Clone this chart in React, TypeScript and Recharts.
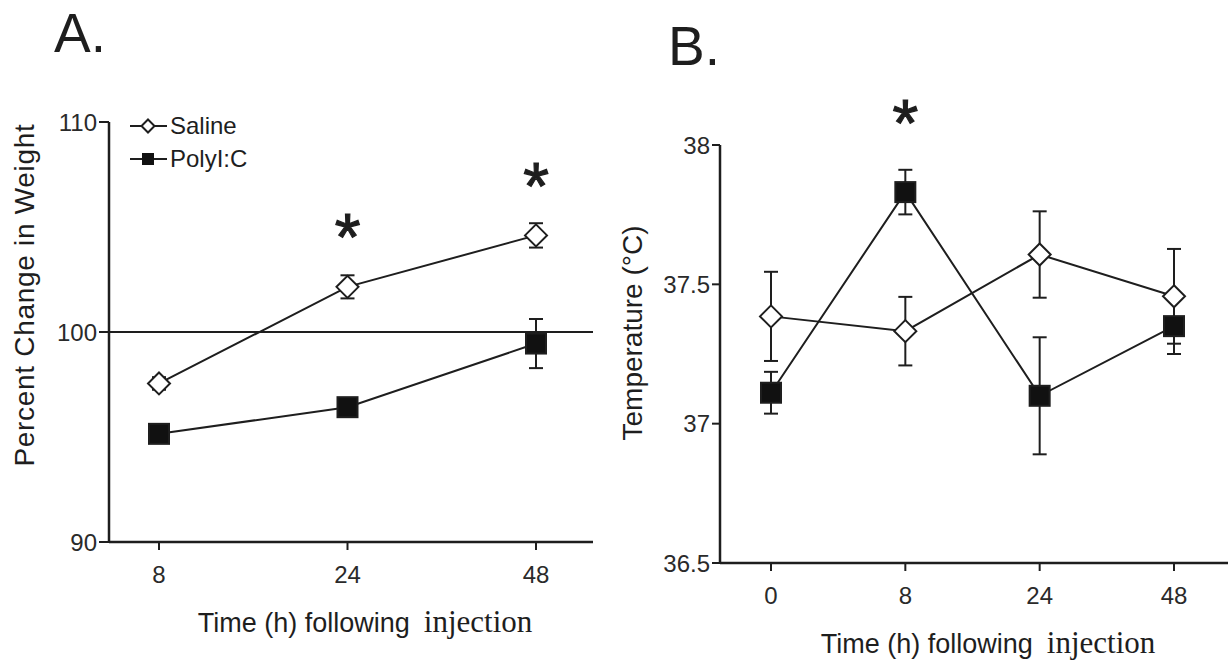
import React from 'react';
import { LineChart, Line, XAxis, YAxis, ErrorBar, ReferenceLine, ReferenceDot, Legend } from 'recharts';

const SANS = '"Liberation Sans", Arial, Helvetica, sans-serif';
const SERIF = '"Liberation Serif", "Times New Roman", serif';
const INK = '#1e1e1e';

// Panel A: percent change in weight
const weightTimes = ['8', '24', '48'];
const weightSaline = [97.55, 102.15, 104.6];
const weightSalineErr = [0.3, 0.55, 0.58];
const weightPoly = [95.15, 96.42, 99.45];
const weightPolyErr = [0.2, 0.25, 1.17];
const weightTicks = [90, 100, 110];
const weightStars = [
  { time: '24', y: 105.2 },
  { time: '48', y: 107.6 },
];

// Panel B: body temperature
const tempTimes = ['0', '8', '24', '48'];
const tempSaline = [37.385, 37.332, 37.607, 37.457];
const tempSalineErr = [0.16, 0.123, 0.155, 0.17];
const tempPoly = [37.111, 37.831, 37.1, 37.35];
const tempPolyErr = [0.075, 0.08, 0.21, 0.1];
const tempTicks = [36.5, 37, 37.5, 38];
const tempStars = [{ time: '8', y: 38.13 }];

const legendItems = [
  { name: 'Saline', mark: 'diamond' },
  { name: 'PolyI:C', mark: 'square' },
];

const weightData = weightTimes.map((time, i) => ({
  time,
  saline: weightSaline[i],
  salineErr: weightSalineErr[i],
  poly: weightPoly[i],
  polyErr: weightPolyErr[i],
}));

const tempData = tempTimes.map((time, i) => ({
  time,
  saline: tempSaline[i],
  salineErr: tempSalineErr[i],
  poly: tempPoly[i],
  polyErr: tempPolyErr[i],
}));

const renderDiamond = (props: any) => {
  const { cx, cy, index } = props;
  if (cx == null || cy == null) return <g key={`d-${index}`} />;
  const r = 11;
  return (
    <path
      key={`d-${index}`}
      d={`M${cx},${cy - r}L${cx + r},${cy}L${cx},${cy + r}L${cx - r},${cy}Z`}
      fill="#fff"
      stroke={INK}
      strokeWidth={2}
    />
  );
};

const renderSquare = (props: any) => {
  const { cx, cy, index } = props;
  if (cx == null || cy == null) return <g key={`s-${index}`} />;
  const h = 10;
  return <rect key={`s-${index}`} x={cx - h} y={cy - h} width={h * 2} height={h * 2} fill="#111" stroke={INK} strokeWidth={2} />;
};

const renderStar = (props: any) => (
  <text
    x={props.cx}
    y={props.cy + 37}
    textAnchor="middle"
    fontFamily={SANS}
    fontSize={66}
    fill={INK}
    stroke={INK}
    strokeWidth={1.2}
  >
    *
  </text>
);

const XTitle = (props: any) => {
  const vb = props.viewBox || { x: 0, y: 0, width: 0, height: 0 };
  return (
    <text x={vb.x + vb.width / 2 + 14} y={vb.y + 90} textAnchor="middle" fill={INK}>
      <tspan fontFamily={SANS} fontSize={27}>Time (h) following</tspan>
      <tspan fontFamily={SERIF} fontSize={31} dx={14}>injection</tspan>
    </text>
  );
};

const YTitle = (props: any) => {
  const vb = props.viewBox || { x: 0, y: 0, width: 0, height: 0 };
  const x = vb.x + props.dx;
  const y = vb.y + vb.height / 2 + props.dy;
  return (
    <text
      x={x}
      y={y}
      transform={`rotate(-90 ${x} ${y})`}
      textAnchor="middle"
      dominantBaseline="central"
      fontFamily={SANS}
      fontSize={28}
      letterSpacing={props.spacing || 0}
      fill={INK}
    >
      {props.text}
    </text>
  );
};

const WeightLegend = () => (
  <div style={{ fontFamily: SANS, fontSize: 24, color: INK }}>
    {legendItems.map((item) => (
      <div key={item.name} style={{ display: 'flex', alignItems: 'center', height: 33 }}>
        <svg width={40} height={20}>
          <line x1={2} y1={10} x2={39} y2={10} stroke={INK} strokeWidth={2} />
          {item.mark === 'diamond' ? (
            <path d="M20,3.5L26.5,10L20,16.5L13.5,10Z" fill="#fff" stroke={INK} strokeWidth={2} />
          ) : (
            <rect x={14} y={4} width={12} height={12} fill="#111" />
          )}
        </svg>
        <span style={{ marginLeft: 2 }}>{item.name}</span>
      </div>
    ))}
  </div>
);

const axisLine = { stroke: INK, strokeWidth: 2.5 };
const tickLine = { stroke: INK, strokeWidth: 2 };
const tickStyle = { fill: '#2a2a2a', fontSize: 24, fontFamily: SANS };

export default function App() {
  return (
    <div style={{ position: 'absolute', left: 0, top: 0, width: 1228, height: 662, background: '#fff', fontFamily: SANS }}>
      <div style={{ position: 'absolute', left: 0, top: 0 }}>
        <LineChart width={600} height={662} data={weightData} margin={{ top: 122, right: 7, bottom: 0, left: 0 }}>
          <XAxis
            dataKey="time"
            type="category"
            scale="point"
            padding={{ left: 50, right: 57 }}
            height={120}
            tickSize={8}
            tickMargin={16}
            axisLine={axisLine}
            tickLine={tickLine}
            tick={tickStyle}
            label={<XTitle />}
          />
          <YAxis
            domain={[90, 110]}
            ticks={weightTicks}
            width={109}
            tickSize={10}
            tickMargin={2}
            axisLine={axisLine}
            tickLine={tickLine}
            tick={tickStyle}
            label={<YTitle text="Percent Change in Weight" dx={24} dy={-37} spacing={0.7} />}
          />
          <ReferenceLine y={100} stroke={INK} strokeWidth={2} />
          <Line dataKey="poly" stroke={INK} strokeWidth={2} dot={renderSquare} activeDot={false} isAnimationActive={false}>
            <ErrorBar dataKey="polyErr" width={7} stroke={INK} strokeWidth={2} direction="y" isAnimationActive={false} />
          </Line>
          <Line dataKey="saline" stroke={INK} strokeWidth={2} dot={renderDiamond} activeDot={false} isAnimationActive={false}>
            <ErrorBar dataKey="salineErr" width={7} stroke={INK} strokeWidth={2} direction="y" isAnimationActive={false} />
          </Line>
          {weightStars.map((s) => (
            <ReferenceDot key={s.time} x={s.time} y={s.y} ifOverflow="visible" shape={renderStar} />
          ))}
          <Legend
            layout="vertical"
            align="center"
            verticalAlign="middle"
            content={<WeightLegend />}
            wrapperStyle={{ left: 128, top: 109, width: 'auto' }}
          />
        </LineChart>
      </div>
      <div style={{ position: 'absolute', left: 600, top: 0 }}>
        <LineChart width={628} height={662} data={tempData} margin={{ top: 145, right: 0, bottom: 0, left: 0 }}>
          <XAxis
            dataKey="time"
            type="category"
            scale="point"
            padding={{ left: 51, right: 54 }}
            height={99}
            tickSize={8}
            tickMargin={16}
            axisLine={axisLine}
            tickLine={tickLine}
            tick={tickStyle}
            label={<XTitle />}
          />
          <YAxis
            domain={[36.5, 38]}
            ticks={tempTicks}
            width={120}
            tickSize={8}
            tickMargin={2}
            axisLine={axisLine}
            tickLine={tickLine}
            tick={tickStyle}
            label={<YTitle text="Temperature (°C)" dx={32} dy={-21} />}
          />
          <Line dataKey="poly" stroke={INK} strokeWidth={2} dot={renderSquare} activeDot={false} isAnimationActive={false}>
            <ErrorBar dataKey="polyErr" width={7} stroke={INK} strokeWidth={2} direction="y" isAnimationActive={false} />
          </Line>
          <Line dataKey="saline" stroke={INK} strokeWidth={2} dot={renderDiamond} activeDot={false} isAnimationActive={false}>
            <ErrorBar dataKey="salineErr" width={7} stroke={INK} strokeWidth={2} direction="y" isAnimationActive={false} />
          </Line>
          {tempStars.map((s) => (
            <ReferenceDot key={s.time} x={s.time} y={s.y} ifOverflow="visible" shape={renderStar} />
          ))}
        </LineChart>
      </div>
      <svg width={1228} height={662} style={{ position: 'absolute', left: 0, top: 0, pointerEvents: 'none' }}>
        <text x={54} y={52} fontFamily={SANS} fontSize={55} fill={INK}>A.</text>
        <text x={668} y={65} fontFamily={SANS} fontSize={55} fill={INK}>B.</text>
      </svg>
    </div>
  );
}
